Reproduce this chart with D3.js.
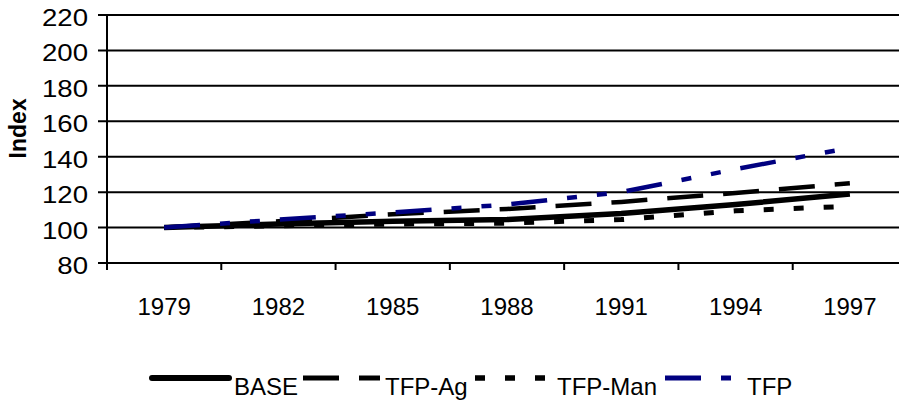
<!DOCTYPE html>
<html lang="en">
<head>
<meta charset="utf-8"/>
<script src="https://d3js.org/d3.v7.min.js"></script>
<style>
  body { margin: 0; background: #fff; }
  text { font-family: Arial, "Liberation Sans", sans-serif; }
</style>
</head>
<body>
<div id="chart"></div>
<script>
// index values, 1979 = 100
var years = ["1979", "1982", "1985", "1988", "1991", "1994", "1997"];
var base = [100, 102, 103.5, 104.5, 108, 113, 119];
var tfpAg = [100, 103.5, 107.5, 110.5, 114.5, 119.5, 125];
var tfpMan = [100, 101, 102, 102.5, 104.5, 109.5, 112];
var tfp = [100, 104.5, 108.5, 113, 120, 133, 145];
var yTicks = [80, 100, 120, 140, 160, 180, 200, 220];

var series = [
    {name: "BASE", values: base, color: "#000", width: 5.5, dash: null},
    {name: "TFP-Ag", values: tfpAg, color: "#000", width: 4.5, dash: "36,20"},
    {name: "TFP-Man", values: tfpMan, color: "#000", width: 5, dash: "10,20"},
    {name: "TFP", values: tfp, color: "#000080", width: 4.5, dash: "36,20,10,20,10,20"}
];

var W = 899, H = 401;
var margin = {top: 15, left: 107, bottom: 138};
var plotRight = 907; // plot runs past the right edge of the picture

var svg = d3.select("#chart").append("svg")
    .attr("width", W)
    .attr("height", H);

var x = d3.scaleBand()
    .domain(years)
    .range([margin.left, plotRight]);

var y = d3.scaleLinear()
    .domain([80, 220])
    .range([H - margin.bottom, margin.top]);

// gridlines
svg.append("g")
    .selectAll("line")
    .data(yTicks)
    .join("line")
        .attr("x1", margin.left - 9)
        .attr("x2", plotRight)
        .attr("y1", function (d) { return y(d); })
        .attr("y2", function (d) { return y(d); })
        .attr("stroke", "#000")
        .attr("stroke-width", 2);

// y axis
svg.append("line")
    .attr("x1", margin.left).attr("x2", margin.left)
    .attr("y1", y(220)).attr("y2", y(80) + 7)
    .attr("stroke", "#000")
    .attr("stroke-width", 2);

svg.append("g")
    .selectAll("text")
    .data(yTicks)
    .join("text")
        .attr("transform", function (d) { return "translate(88," + (y(d) + 11) + ") scale(1.2,1)"; })
        .attr("text-anchor", "end")
        .attr("font-size", 23)
        .text(function (d) { return d; });

svg.append("text")
    .attr("transform", "translate(26," + y(156) + ") rotate(-90)")
    .attr("text-anchor", "middle")
    .attr("font-size", 23)
    .attr("font-weight", "bold")
    .text("Index");

// x axis tick marks between categories
svg.append("g")
    .selectAll("line")
    .data(years)
    .join("line")
        .attr("x1", function (d) { return x(d); })
        .attr("x2", function (d) { return x(d); })
        .attr("y1", y(80))
        .attr("y2", y(80) + 7)
        .attr("stroke", "#000")
        .attr("stroke-width", 2);

svg.append("g")
    .selectAll("text")
    .data(years)
    .join("text")
        .attr("x", function (d) { return x(d) + x.bandwidth() / 2; })
        .attr("y", 315)
        .attr("text-anchor", "middle")
        .attr("font-size", 24)
        .text(function (d) { return d; });

// lines
var line = d3.line()
    .x(function (d, i) { return x(years[i]) + x.bandwidth() / 2; })
    .y(function (d) { return y(d); });

svg.append("g")
    .selectAll("path")
    .data(series)
    .join("path")
        .attr("d", function (s) { return line(s.values); })
        .attr("fill", "none")
        .attr("stroke", function (s) { return s.color; })
        .attr("stroke-width", function (s) { return s.width; })
        .attr("stroke-dasharray", function (s) { return s.dash; })
        .attr("stroke-linejoin", "round");

// legend
var legendX = [152, 303, 475, 665];
var legend = svg.append("g")
    .selectAll("g")
    .data(series)
    .join("g")
        .attr("transform", function (s, i) { return "translate(" + legendX[i] + ",378)"; });

legend.append("line")
    .attr("x1", 0).attr("x2", 77)
    .attr("stroke", function (s) { return s.color; })
    .attr("stroke-width", function (s) { return s.width + 0.5; })
    .attr("stroke-dasharray", function (s) { return s.dash; })
    .attr("stroke-linecap", function (s) { return s.dash ? "butt" : "round"; });

legend.append("text")
    .attr("x", 82)
    .attr("y", 17)
    .attr("font-size", 24)
    .text(function (s) { return s.name; });
</script>
</body>
</html>
